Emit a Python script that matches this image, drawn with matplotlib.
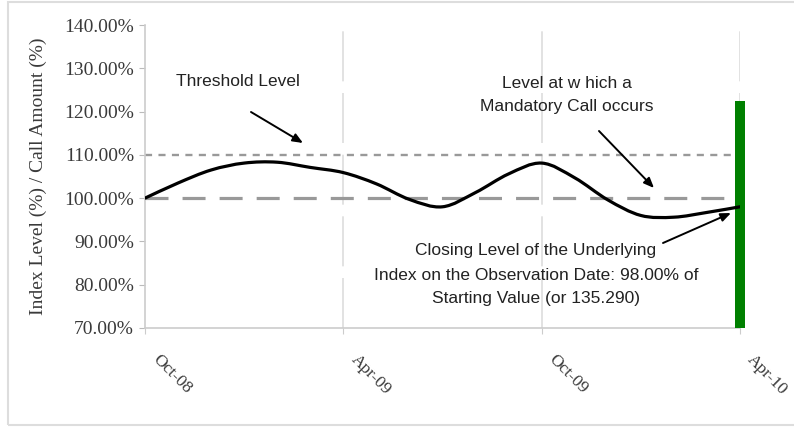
import numpy as np
import matplotlib
matplotlib.use("Agg")
import matplotlib.pyplot as plt
from matplotlib.path import Path
from matplotlib.patches import PathPatch, Rectangle

# Index level path, months after Oct-08 vs. percent of starting value
months = list(range(19))
index_level = [100.0, 103.5, 106.5, 108.1, 108.3, 107.1, 105.9, 103.3, 99.7, 98.0,
               101.3, 105.6, 108.1, 104.7, 99.6, 96.0, 95.6, 96.7, 98.0]

threshold_level = 110.0
call_level = 100.0
call_amount_month = 18
call_amount = 122.5

tick_months = [0, 6, 12, 18]
tick_labels = ["Oct-08", "Apr-09", "Oct-09", "Apr-10"]
y_ticks = [70, 80, 90, 100, 110, 120, 130, 140]

W, H = 794, 429
fig = plt.figure(figsize=(W / 100, H / 100), dpi=100)
fig.patch.set_facecolor("white")

# light outer frame
fig.patches.append(Rectangle((8 / W, 4 / H), 1.0, 1 - 6 / H, transform=fig.transFigure,
                             fill=False, edgecolor="#dddddd", linewidth=1.5))

ax = fig.add_axes([145 / W, 1 - 328 / H, (740 - 145) / W, (328 - 25) / H])
ax.set_xlim(0, 18)
ax.set_ylim(70, 140)

for s in ("top", "right"):
    ax.spines[s].set_visible(False)
for s in ("left", "bottom"):
    ax.spines[s].set_color("#cccccc")
    ax.spines[s].set_linewidth(1.2)

serif = "Liberation Serif"
sans = "Liberation Sans"

ax.set_yticks(y_ticks)
ax.set_yticklabels([f"{v:.2f}%" for v in y_ticks], fontfamily=serif, fontsize=14,
                   color="#3a3a3a")
ax.tick_params(axis="y", length=4, color="#bbbbbb", pad=4)
ax.set_xticks(tick_months)
ax.set_xticklabels([])
ax.tick_params(axis="x", length=4, color="#cccccc")
for m, lab in zip(tick_months, tick_labels):
    ax.annotate(lab, xy=(m, 70), xycoords="data", xytext=(7, -21), textcoords="offset points",
                rotation=-45, rotation_mode="anchor", ha="left", va="center",
                fontfamily=serif, fontsize=12.5, color="#3a3a3a")

ax.set_ylabel("Index Level (%) / Call Amount (%)", fontfamily=serif, fontsize=14,
              color="#3a3a3a")
ax.yaxis.set_label_coords((47 - 145) / 595, 0.5)

# vertical gridlines
for m in tick_months[1:]:
    ax.axvline(m, color="#dddddd", linewidth=1.2, linestyle=(0, (30, 7)), zorder=1)

# reference levels
ax.axhline(threshold_level, color="#999999", linewidth=1.7, linestyle=(0, (3.0, 2.7)), zorder=2)
ax.axhline(call_level, color="#999999", linewidth=2.3, linestyle=(0, (7.2, 4.4)), zorder=2)

# call amount bar
ax.bar([call_amount_month], [call_amount - 70], bottom=70, width=0.3, color="#008000",
       zorder=3, clip_on=False)

# smoothed index curve (Catmull-Rom segments as cubic Beziers)
pts = np.column_stack([months, index_level]).astype(float)
verts = [tuple(pts[0])]
codes = [Path.MOVETO]
n = len(pts)
for i in range(n - 1):
    p0 = pts[i - 1] if i > 0 else pts[i]
    p1 = pts[i]
    p2 = pts[i + 1]
    p3 = pts[i + 2] if i + 2 < n else pts[i + 1]
    c1 = p1 + (p2 - p0) / 6.0
    c2 = p2 - (p3 - p1) / 6.0
    verts += [tuple(c1), tuple(c2), tuple(p2)]
    codes += [Path.CURVE4] * 3
ax.add_patch(PathPatch(Path(verts, codes), fill=False, edgecolor="black", linewidth=2.3,
                       zorder=4, capstyle="round"))

# annotations
txt_kw = dict(fontfamily=sans, fontsize=12.5, color="#222222", ha="center", va="center")
arrow_kw = dict(arrowstyle="-|>,head_length=0.6,head_width=0.25", color="black", lw=1.4,
                shrinkA=0, shrinkB=0)

def px(x, y):
    """pixel position (from top-left) to data coordinates"""
    d = ax.transData.inverted().transform((x, H - y))
    return float(d[0]), float(d[1])

ax.text(*px(238, 82), "Threshold Level", **txt_kw)
ax.annotate("", xy=px(303, 143), xytext=px(251, 112), arrowprops=arrow_kw)

ax.text(*px(567, 95), "Level at w hich a\nMandatory Call occurs", linespacing=1.75, **txt_kw)
ax.annotate("", xy=px(654, 188), xytext=px(599, 131), arrowprops=arrow_kw)

ax.text(*px(536, 275),
        "Closing Level of the Underlying\nIndex on the Observation Date: 98.00% of\n"
        "Starting Value (or 135.290)", linespacing=1.75, **txt_kw)
ax.annotate("", xy=px(731, 213), xytext=px(663, 243), arrowprops=arrow_kw)

fig.savefig("out.png", dpi=100, facecolor="white")
